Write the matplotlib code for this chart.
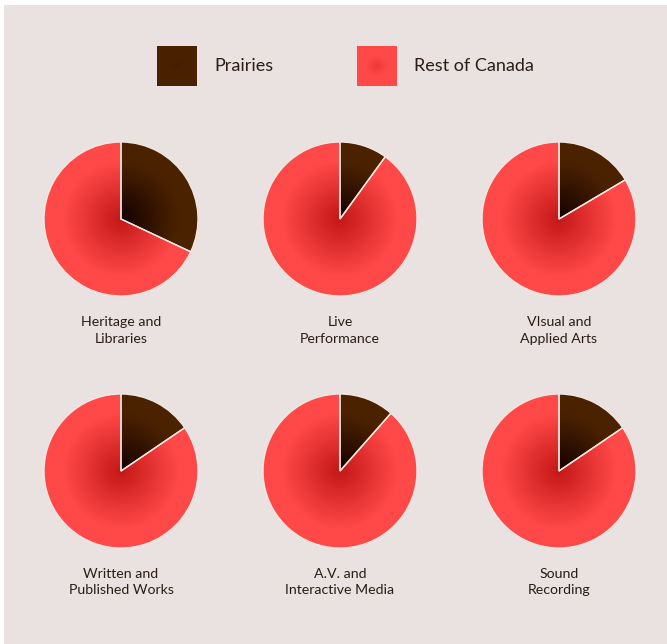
import numpy as np
import matplotlib
matplotlib.use("Agg")
import matplotlib.pyplot as plt
from matplotlib.patches import Rectangle
from matplotlib.colors import LinearSegmentedColormap

# Data: share of each sector (percent)
categories = ["Heritage and\nLibraries", "Live\nPerformance", "VIsual and\nApplied Arts",
              "Written and\nPublished Works", "A.V. and\nInteractive Media", "Sound\nRecording"]
prairies = [32, 10, 16.5, 15.5, 11.5, 15.5]
rest_of_canada = [100 - v for v in prairies]
series_names = ["Prairies", "Rest of Canada"]

W, H = 667, 644
fig = plt.figure(figsize=(W / 100, H / 100), dpi=100, facecolor="white")
ax = fig.add_axes([0, 0, 1, 1])

# background panel
ax.add_patch(Rectangle((4, 0), W - 4, H - 5, facecolor="#e9e2e0", edgecolor="none", zorder=0))

brown_cmap = LinearSegmentedColormap.from_list(
    "brown", [(0, "#140000"), (0.75, "#4b2200"), (1, "#4b2200")])
red_cmap = LinearSegmentedColormap.from_list(
    "red", [(0, "#c41818"), (0.75, "#ff4848"), (1, "#ff4848")])
cmaps = [brown_cmap, red_cmap]

# radial gradient image
n = 200
yy, xx = np.mgrid[-1:1:n * 1j, -1:1:n * 1j]
dist = np.sqrt(xx ** 2 + yy ** 2)

centers_x = [121, 340, 559]
centers_y = [219, 471]
radius = 77

for i, name in enumerate(categories):
    cx = centers_x[i % 3]
    cy = H - centers_y[i // 3]
    wedges, _ = ax.pie([prairies[i], rest_of_canada[i]], center=(cx, cy), radius=radius,
                       startangle=90, counterclock=False, frame=True,
                       wedgeprops=dict(edgecolor="#f3e6df", linewidth=1.0))
    for w, cm in zip(wedges, cmaps):
        w.set_facecolor("none")
        im = ax.imshow(dist, cmap=cm, vmin=0, vmax=1, interpolation="bilinear",
                       extent=(cx - radius, cx + radius, cy - radius, cy + radius), zorder=1)
        im.set_clip_path(w)
        w.set_zorder(2)
    ax.text(cx, cy - radius - 20, name, ha="center", va="top", fontsize=10.2,
            family="Lato", color="#2b1d16", linespacing=1.45)

# legend
leg_x = [157, 357]
leg_center = [0.66, 0.5]
sq = 40
for x0, label, cm, c0 in zip(leg_x, series_names, cmaps, leg_center):
    y0 = H - 86
    r = Rectangle((x0, y0), sq, sq, facecolor="none", edgecolor="none")
    ax.add_patch(r)
    im = ax.imshow(c0 + np.clip(dist * 1.6, 0, 1) * (0.8 - c0), cmap=cm, vmin=0, vmax=1,
                   interpolation="bilinear", extent=(x0, x0 + sq, y0, y0 + sq), zorder=1)
    im.set_clip_path(r)
    ax.text(x0 + 57, H - 66, label, ha="left", va="center", fontsize=13,
            family="Lato", color="#2b1d16")

ax.set_xlim(0, W)
ax.set_ylim(0, H)
ax.set_aspect("equal")
ax.axis("off")

fig.savefig("out.png", dpi=100, facecolor="white")
